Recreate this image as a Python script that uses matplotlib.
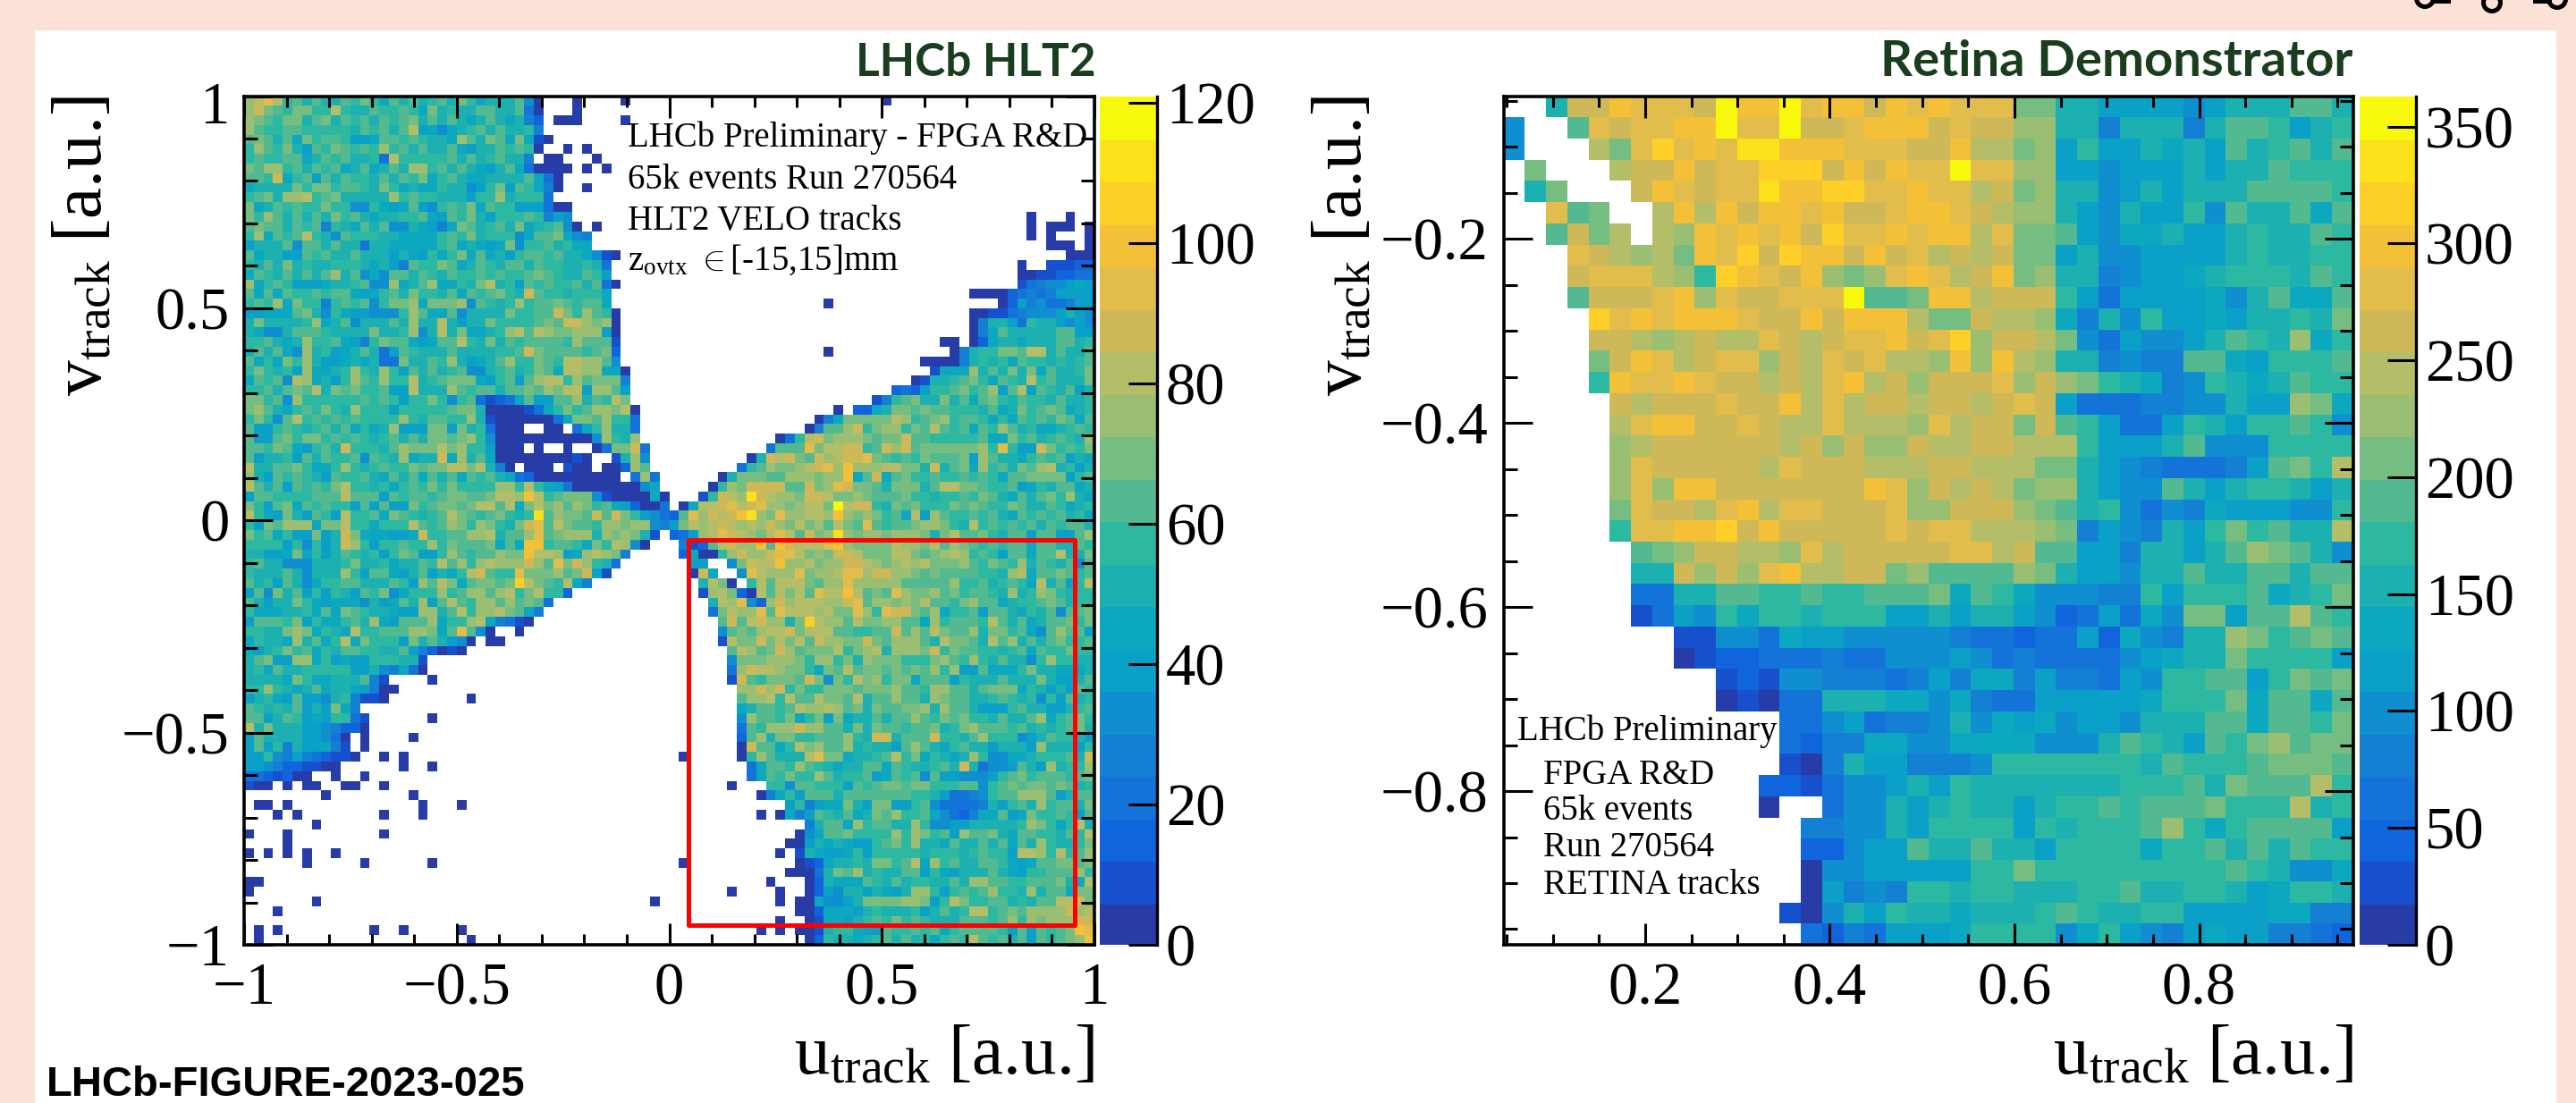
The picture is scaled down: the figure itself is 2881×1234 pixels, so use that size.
import numpy as np
import matplotlib
matplotlib.use('Agg')
import matplotlib.pyplot as plt
from matplotlib.colors import ListedColormap
from matplotlib.patches import Rectangle, Circle
from matplotlib.lines import Line2D
from matplotlib.ticker import MultipleLocator
from matplotlib.transforms import ScaledTranslation

W, H = 2881, 1234
SERIF = ['Liberation Serif', 'DejaVu Serif']
plt.rcParams['font.family'] = SERIF
plt.rcParams['mathtext.fontset'] = 'custom'
plt.rcParams['mathtext.rm'] = 'Liberation Serif'
plt.rcParams['mathtext.it'] = 'Liberation Serif'

# colour band read per cell: 0-9 then a-j, '.' is an empty bin
CODES = '0123456789abcdefghij'
band_colors = ['#283ca8', '#1650cc', '#1065dd', '#1473d8', '#1480d4', '#0f8ed0', '#0aa0c8', '#0ca8c0',
               '#1cb0b0', '#2db8a2', '#52b990', '#75bd80', '#9abf72', '#b4bd68', '#cfb858', '#e2bd4c',
               '#f4c038', '#fdcf28', '#fbe01c', '#f8f80c']

hlt2_zmax = 121.0
retina_zmax = 363.0

hlt2_top_left = [
 "cdfd9a8a88 a9b97a8a89 a8b97888a5 0...0....0 ....",
 "ceba9bb99d 988a99a97b 8988aa88a3 0...0",
 "cba9bb8ab8 a9a8a9ab8a 8a878a8784 2.000....0",
 "ca99aa9999 98a9a8ad67 5789a8a889 4",
 "aba8a7b9aa 9667aa9a98 87ca8ba7b7 10",
 "9ca9b86a9b a9a9c9a8a8 8a7688a9a9 0..0.0",
 "9a99aa78a9 a8893d9999 9a8a89a884 .00...0",
 "bacc9a8a9a 78a78a8cc9 a8a8768a73 0000.0.0",
 "aa9e79a6a8 a998a8a9b7 9a8778888a 730",
 "78888b9bb9 aa98b97877 988569b6a9 740..0",
 "9ab8ccd9ab 88888c9a99 888699c899 93",
 "b78a9a99b9 9559767a65 9a9b7a9966 6300",
 "b9ca8a8a8b 9a878899a7 6a9b86999a 9465",
 "abaa8a9a49 87a8a55876 47ba89a8b7 89a50.0",
 "9c7a9ad985 a999887777 9a9b899957 aab754",
 "6888a5aa8a 8838877777 9a78767b59 9a8977",
 "a78866a9a8 8a88868769 79b7a7869a a9a887510.",
 "98a8b89889 9987864a99 ba78a98aa8 a9988983",
 "7a98a8a8ac 8a575aa8a9 8a99a9a99a ba988a96",
 "c79a966678 89a55c78ac 7798bd896a 9a99a8a30",
 "a7a7a99a9a a7679a8b99 8a7a9ab98e a9989997",
 "9a9c7b9949 a9a59bbc7b bbc5a989c9 aaba9aa7",
 "66777ab859 7665559ca7 7a58888b99 aaeb9ca90",
 "8b88889c78 a5888a8c88 d8688b9999 abaeecbc0",
 "87558aaa98 888b889c58 d8b7789cda dcbbccc60",
 "99a878c99a 7649baa767 aad98b8a9a aaa9caaa1",
 "8a8a75c896 78a836a988 8a888899ae baaaa9ab2",
 "a797b9c866 787833b88a 9c8678ac99 ba9ddcca5",
 "9b9896c778 9c98c96a8a 89a5589a89 ba7ddcc770",
 "7a9a5dc786 9ca9c99d89 abbb769a6a cdd9cabbb4",
 "99a8abad8b ab99a66d88 8ca9aa8aab acbdd6cca6",
 "bb9a5c9999 99a9a9699b 959a31237a 66aac8a9db",
 "bca879a9b9 8c99969999 9abb800001 379b9accbd 0",
 "9b95ad9a9a 9a9999c98a a99c810000 0037bbac99 3",
 "a669a989a8 a7978c666b b6b893000. .00.379c88 3",
 "a66ab9bb9a 9a989a8a8b babc950000 0000005c98 c",
 "aa9ba769a8 e9998acbbb dbc996000. 0..0..03bb e3",
 "a68896a8a9 9a5a98c788 e7c8a70000 000010..18 c5",
 "d88aab9779 c989a99bab bddbd840.0 00.100.002 ca",
 "c86a9a986a 99a87a8a7a 8a7a9a8732 000000000. 3c3",
 "da8a6a9a9b d998979a9b 9b9999cc9d 9763000000 057",
 "6aa9999aaa daaa6a9aa9 abbaabddcg d9abbb5100 0070",
 "b96ab7a9a9 96a6a66b9a bbabddad7b dbcacb9a76 2003",
 "d976b86a96 d99a7ba989 adba9ab989 iacbbaeaeb 9653",
]

hlt2_top_right = [
 ".......... .......... ..0",
 "", "", "", "", "", "", "", "", "", "", "",
 ".......... .......... .......... .......0.. .0..",
 ".......... .......... .......... .......0.0 00.0",
 ".......... .......... .......... .......0.0 ...0",
 ".......... .......... .......... .........0 00.0",
 ".......... .......... .......... .......... .000",
 ".......... .......... .......... ......0..1 1122",
 ".......... .......... .......... ......0011 2233",
 ".......... .......... .......... ......1345 5676",
 ".......... .......... .......... .000023434 6666",
 ".......... ......0... .......... ....026453 3466",
 ".......... .......... .......... .001134555 6865",
 ".......... .......... .......... .048863988 6565",
 ".......... .......... .......... .047a88888 aa66",
 ".......... .......... ........00 .027887888 aa89",
 ".......... ......0... .........0 4899bbadd8 a88a",
 ".......... .......... ......0000 489897a998 989a",
 ".......... .......... .......177 7c8a8b8b7a 889b",
 ".......... .......... .....01889 ab97a98d9a 888b",
 ".......... .......... ...232699a b9ac6ad6a9 8a68",
 ".......... .......... .149ab88b8 a7ab98a998 a889",
 ".......... .......0.2 278bbabaa9 998a78b9ab a789",
 ".......... .....047bb bbbdc9abc9 aa9797a9a9 ba7a",
 ".......... ....04aace 9bcc9bada9 a7a9ca8977 89a9",
 ".......... .039debccc babbeaa999 99a77b9a89 a98c",
 ".......... 3aaafbddee 9aeceabbbb bbc9f966eb 9a9b",
 "........08 edebaecdee fba9a9baaa b6ca8879a9 a687",
 ".......39a cbbcdefcgc ccddbb8e8a b7c9a8bacd 8968",
 ".....08bbb aacccbccg7 ae7ab99a99 a9a97aabbb b69a",
 "....09cbee eeaaebcfeb ba8bbb8add bba99a6798 aa78",
 "...19edcie dccbeedbbc baaab99899 a9ba87a8ab 9c87",
 ".07ddefdef ccbcddbjde e98bab999b aba99ba88a 9789",
 "2afcedegic bfccddcgcb cb9a7d6ca9 9a9a87a9a9 a897",
]

hlt2_bottom_left = [
 "96baccc7bb d997999da9 acb9cb98be fadbaa9ccb cc54",
 "b9a7966b68 eb77766 7e9 9aaccd8aac fabccc8cbc b81.",
 "9999695968 ec9699a99c 9baaab7a7g g9aa97b9dc 50",
 "88667b7968 a98969ba66 9ca9aacbbg ddc67cdcb4",
 "9a88555888 9b88978 8a9 dac9cdccce cafbec983.",
 "9888a85888 c96aa768a6 879dea99fb bbcabe61",
 "a896a85799 aa888a96ca db7abbabhd ba9d74",
 "6a5b8a6969 86a9b57999 c9acca cd9b d992",
 "a8688b9767 775867a8c6 ada9ccacab a3",
 "97778897a7 ba988766cc 8ad9ccdba7 4",
 "6aaa9b6977 9a8c76aaac 799cd74310",
 "9988bcb798 7d99aaaccb 7afa50..0.",
 "79887c8a79 d7b9996b8a 8650.00",
 "7689b9a798 aa9988a642 010",
 "8ab66cc796 7669998 81.",
 "897a889999 96685 4730.",
 "88887b9778 88a41....0",
 "99c9878a78 876400",
 "6897 6a6658 94110..... ...0",
 "a9898a686b 74",
 "aa68a96769 931......0",
 "d8b8886654 220",
 "6a88886653 0.0....0",
 "6a69486674 1.0",
 "6695464321 10..0.0",
 "6654221100 ......0..0",
 "33212 00..0 ..0",
 "100.0.00.. 00..0",
 "........0. .......0",
 ".00.0..... ........0. ..0",
 "...0.0.... ....0...0.",
 ".......0",
 "0...0..... ....0",
 "....0",
 "0.0.0.0..0",
 "......0... ..0......0",
 "",
 "00",
 "0",
 ".......0.. .......... .......... .......... ..0.",
 "...0",
 "",
 ".0.0...... ...0..0... ..0",
 ".0........ .......... ...0",
]

hlt2_bottom_right = [
 "6bdcdedcdc ecbdbcadba fa9aabccb9 8d9a9a9a8a 9aa8",
 "236cdfedcb dfdaebcicb ccbcccb8bd aab98aa6aa 66ac",
 ".412adeccg agedddfgcb bbbdccbdac ba9a9aa7aa 88a9",
 ".27009cecc effdbcbeed bbbddbabcd c9a96aa7aa d88b",
 "..66..5bed dgccdbccee dcbcdcdbbb ca9ba9c8a9 8a5a",
 "..0e7..5fd cccfbccdff ceeccbabaa aa998cd7aa ba9a",
 "...8db0.9d adddbaccfc ccccaaaaac 99a89a97d8 a69d",
 "...1cdb20d adbdafddgd abafcbbcab 9aa98c89cb 9899",
 "....8dcf52 cecdddccef accbcbdaa9 bcaa7899ab a899",
 "....3bdccf afdddcdbbf c9feebac79 9a6aa8798a 5aab",
 ".....aeade cc8bhdccad bbccaa7c9a aa9da8a78a ab9b",
 ".....5abac ddebdddaa9 9aaeacadba ac8bb9a75a caa6",
 ".....1dbbe bdbdaeccbb ebaccca8db ba8dac8a8a b99a",
 "......adca becabbbd9b cd8cccbe9b aa9989a7a9 9b99",
 "......5bbb cccb9cc9b8 cbbb999bca 9c98a8859c 9988",
 "......3ced dcbb97bada bbababac9c 66a7779b88 7778",
 "......1ea9 bbbaeb5b9d bc9bb7aaa6 9888a888b8 668a",
 ".......cce ce9b99bbba bbbcaa9cca a8abbb7986 86a9",
 ".......acc d9daadbbad 8aacaa8cba a889a98959 6a89",
 ".......78a a9adccdcab 8baabbc8ca a86669a886 689a",
 ".......5ca a9b79b6b78 8a8aaca9ba b998a88ac7 9ab9",
 ".......3a9 ccceccaa8b 8baa9aab89 bcaaa9a898 9ab8",
 ".......2ac 8bb99aaac9 8ee8aaae99 8ac999568a 9986",
 ".......0ea a79dbcaac8 9886aca879 a8868886c8 8869",
 ".0.....09c a888dfbb78 89ad9b7987 8c95577899 9a8e",
 "........37 aa9ca98788 aa7a9889a8 e8355 6a86c 899c",
 "........37 a9b99ca899 a67a9a5a66 55569ab9aa a9ab",
 "......0... 995aa9996a 9abbabb999 aa59ababba ba89",
 ".........0 4796aaa8aa aaaaa99863 3459aaccca 68aa",
 ".......... ..694677b8 6bb669a533 334869a8c9 aa8b",
 ".........0 .0746a98a7 8bac99a753 2477a67b99 a96a",
 ".......... ....48aa7c 9aa88c9556 6888889cb9 79d8",
 ".......... ...057aab9 999c9cb9a6 caab87aa99 8a9d",
 ".......... ..00687876 69ab9c887a 88a8a7a8c9 889b",
 ".......... .0.1876679 6999998999 89a996ddc9 d9ac",
 ".0........ ...0127889 8bb9ad7c9a 88aa9767aa bbab",
 ".......... ..00038bac 8988aa6976 888a87699a aac9",
 ".......... 0...028777 a98a89988a 8ccaa99aaa b87d",
 "......0... .0..026588 68768cc969 a9ac998c8a a7bb",
 ".......... .0.0075568 bbbbccb69d b99aa898aa ddeb",
 ".......... ...0027776 89888968a8 9dd9abaccc cecd",
 ".......... .0..017768 9a9b9a9888 aaa9ac9cbc ccee",
 ".........0 .0.0018997 66a99a9a79 aaaa96a6a9 abgf",
 ".......... ....029887 89a8a8979a 9da9a8a6a9 abcg",
]

retina_rows = [
 "..8eegfffe jggjfggegf gfffbb8866 6656888aa8",
 "5..afeffgg jffjeefggg efeecc8848 8848aa9689",
 "5...dbfhfg fiigggfffe egddbc6966 8786a89a8a",
 ".b...deege ffhhhegegf fjffcc6656 668688a999",
 ".8b...egfe ffigghhffg ffdebc8856 86888aaaa9",
 "..fab..dgd geggfgeefg gfedcc8658 6695a88a7a",
 "..aebd.dcg fgfgehffgf ggdfbba657 78668988a9",
 "...fedcdbg fhehggegef dedebb6855 6666898899",
 "...efffdc9 hgfegcbcfg fdegbc8845 66789998a9",
 "...aeeefgc feefffjaab ggdeee9636 666758a77a",
 "....hfgfgg gfeegegggd bbeddc7485 966768898b",
 "....eedcde ddfedeffge fhceedb536 5568a98c79",
 "....begfde ffcedfefdd cgcgdc8845 44aa76999a",
 "....9gffgf eededfgdec eeefcecb98 7459878a99",
 ".....edeee feegdfdeed eedefe6333 4455866cb7",
 ".....dfgge efeddfdddc fdeebea963 3698699a95",
 ".....cdeee eeedececce ddeeddd966 68a5559999",
 ".....cfeee eedfeeeddd eedddbb865 433346ab9d",
 ".....cfcgg eeeeeeegfc ededbcc865 5a86899868",
 ".....bfeed fgdffeeefc ceeecba895 3547666559",
 ".....9ffgg hegeeeeefe ffdddcb465 4869b9a88d",
 "......abce eddcfdeeee effdeaa664 8868acba85",
 "......88ec ecfgddeebc aaaacb8665 88a88aa8aa",
 "......3388 aa99a99aaa b7a9755544 96999a789b",
 "......1365 9799899966 8688652363 75bb6aada9",
 "........11 5537665555 5433233627 5488cb9aba",
 "........01 2233343355 5653433335 6788b99996",
 ".......... 1215544434 6477464436 599aa69bab",
 ".......... 0103388877 5743366666 7999b7aa7a",
 ".......... ...3356344 5857675665 888aa7aa9b",
 ".......... ...3244775 577775558a 986a9bcabb",
 ".......... ...1048664 4459999999 8a999abbba",
 ".......... ..22135568 6988888889 99a8baaad9",
 ".......... ..0..35586 89886899a9 aaab999d89",
 ".......... ....445586 9999698999 ac979aaaa6",
 ".......... ....22566a 88a8869999 799a8a8a99",
 ".......... ....055666 6699b99999 9999a98557",
 ".......... ....064549 989988899a 8899867998",
 ".......... ...1058698 878889a988 9966667744",
 ".......... ....324366 6799995796 5467664432",
]

hlt2_xedges = [-1.0, 1.0]
hlt2_yedges = [1.0, -1.0]
retina_xedges = [0.0466, 0.967]
retina_yedges = [-0.045, -0.967]
hlt2_box = [0.0455, -0.954, 0.9545, -0.0455]

hlt2_ticks = ([-1, -0.5, 0, 0.5, 1], ['\u22121', '\u22120.5', '0', '0.5', '1'])
hlt2_zticks = [0, 20, 40, 60, 80, 100, 120]
retina_xticks = ([0.2, 0.4, 0.6, 0.8], ['0.2', '0.4', '0.6', '0.8'])
retina_yticks = ([-0.8, -0.6, -0.4, -0.2], ['\u22120.8', '\u22120.6', '\u22120.4', '\u22120.2'])
retina_zticks = [0, 50, 100, 150, 200, 250, 300, 350]

hlt2_legend = ['LHCb Preliminary - FPGA R&D', '65k events Run 270564', 'HLT2 VELO tracks',
               'z$_{\\mathrm{ovtx}}\\ \\in$[-15,15]mm']
retina_legend = ['LHCb Preliminary', 'FPGA R&D', '65k events', 'Run 270564', 'RETINA tracks']


def decode(rows, ncol, zmax):
    out = np.full((len(rows), ncol), np.nan)
    for i, r in enumerate(rows):
        s = r.replace(' ', '').ljust(ncol, '.')[:ncol]
        for j, c in enumerate(s):
            if c != '.':
                out[i, j] = (CODES.index(c) + 0.5) * zmax / len(CODES)
    return out


def ax_px(fig, x0, y0, x1, y1):
    return fig.add_axes([x0 / W, 1 - y1 / H, (x1 - x0) / W, (y1 - y0) / H])


def ftext(fig, x, y, s, **kw):
    return fig.text(x / W, 1 - y / H, s, **kw)


def style(ax, xmin, ymin):
    for s in ax.spines.values():
        s.set_linewidth(2.6)
    ax.xaxis.set_minor_locator(MultipleLocator(xmin))
    ax.yaxis.set_minor_locator(MultipleLocator(ymin))
    ax.tick_params(axis='both', which='both', direction='in', top=True, right=True, width=2.2)
    ax.tick_params(axis='x', which='major', length=17, labelsize=48, pad=14)
    ax.tick_params(axis='x', which='minor', length=8.5)
    ax.tick_params(axis='y', which='major', length=23, labelsize=48, pad=12)
    ax.tick_params(axis='y', which='minor', length=11)


def zbar(fig, x0, x1, mesh, ticks):
    cax = ax_px(fig, x0, 107.5, x1, 1057)
    cb = fig.colorbar(mesh, cax=cax, drawedges=False)
    cb.set_ticks(ticks)
    cb.ax.minorticks_off()
    cax.tick_params(axis='y', which='major', direction='in', length=23, width=2.2, labelsize=48, pad=7,
                    right=True, left=False)
    cb.outline.set_visible(False)
    cax.spines['right'].set_visible(True)
    cax.spines['right'].set_linewidth(2.4)
    for lab in cax.get_yticklabels():
        lab.set_ha('left')
    cb.solids.set_edgecolor('face')
    return cb


fig = plt.figure(figsize=(W / 100, H / 100), dpi=100, facecolor='#fbe1d6')
fig.add_artist(Rectangle((39 / W, 0), (2859 - 39) / W, 1 - 34 / H, transform=fig.transFigure,
                         facecolor='white', edgecolor='none', zorder=-5))

# cut off logo rings along the top edge of the page
for cx, cy in [(2712, -2), (2787, 3), (2860, -1)]:
    fig.add_artist(Circle((cx, H - cy), 9.5, transform=None, fill=False, edgecolor='black', linewidth=3.6))
fig.add_artist(Line2D([2722 / W, 2738 / W], [1 - 1 / H, 1 - 1 / H], color='black', lw=3.6))
fig.add_artist(Line2D([2835 / W, 2851 / W], [1 - 1 / H, 1 - 1 / H], color='black', lw=3.6))

cmap = ListedColormap(band_colors)

# left panel
hlt2 = np.vstack([np.hstack([decode(hlt2_top_left, 44, hlt2_zmax), decode(hlt2_top_right, 44, hlt2_zmax)]),
                  np.hstack([decode(hlt2_bottom_left, 44, hlt2_zmax), decode(hlt2_bottom_right, 44, hlt2_zmax)])])
ax = ax_px(fig, 273, 107.5, 1224, 1057)
xe = np.linspace(hlt2_xedges[0], hlt2_xedges[1], hlt2.shape[1] + 1)
ye = np.linspace(hlt2_yedges[0], hlt2_yedges[1], hlt2.shape[0] + 1)
m1 = ax.pcolormesh(xe, ye, np.ma.masked_invalid(hlt2), cmap=cmap, vmin=0, vmax=hlt2_zmax)
ax.set_xlim(-1, 1)
ax.set_ylim(-1, 1)
ax.set_xticks(hlt2_ticks[0], hlt2_ticks[1])
ax.set_yticks(hlt2_ticks[0], hlt2_ticks[1])
style(ax, 0.1, 0.1)
# ROOT pulls the top label down a little
top_lab = ax.get_yticklabels()[-1]
top_lab.set_transform(top_lab.get_transform() + ScaledTranslation(0, -7 / 100, fig.dpi_scale_trans))
ax.add_patch(Rectangle((hlt2_box[0], hlt2_box[1]), hlt2_box[2] - hlt2_box[0], hlt2_box[3] - hlt2_box[1],
                       fill=False, edgecolor='red', linewidth=3.6, joinstyle='round', zorder=6))
zbar(fig, 1230, 1294, m1, hlt2_zticks)
for s, y in zip(hlt2_legend, [164, 211, 257, 302]):
    ftext(fig, 702.5, y, s, fontsize=28, va='baseline', ha='left', family=SERIF)

# right panel
retina = decode(retina_rows, 40, retina_zmax)
ax2 = ax_px(fig, 1681.5, 107.5, 2632, 1057)
xe2 = np.linspace(retina_xedges[0], retina_xedges[1], retina.shape[1] + 1)
ye2 = np.linspace(retina_yedges[0], retina_yedges[1], retina.shape[0] + 1)
m2 = ax2.pcolormesh(xe2, ye2, np.ma.masked_invalid(retina), cmap=cmap, vmin=0, vmax=retina_zmax)
ax2.set_xlim(retina_xedges)
ax2.set_ylim(retina_yedges[1], retina_yedges[0])
ax2.set_xticks(retina_xticks[0], retina_xticks[1])
ax2.set_yticks(retina_yticks[0], retina_yticks[1])
style(ax2, 0.05, 0.05)
zbar(fig, 2638.5, 2702, m2, retina_zticks)
for s, x, y in zip(retina_legend, [1697, 1726.5, 1726.5, 1726.5, 1726.5], [828, 877, 917, 958, 1000]):
    ftext(fig, x, y, s, fontsize=28, va='baseline', ha='left', family=SERIF)

# axis titles
ulabel = '$\\mathrm{u}_{\\mathrm{track}}$ [a.u.]'
vlabel = '$\\mathrm{v}_{\\mathrm{track}}$ [a.u.]'
for xr, xv in [(1224, 95), (2632, 1504)]:
    ftext(fig, xr, 1202, ulabel, fontsize=57, ha='right', va='baseline', family=SERIF)
    ftext(fig, xv, 107, vlabel, fontsize=57, rotation=90, ha='center', va='top', family=SERIF)

# panel headers
GREEN = '#1a3d1e'
ftext(fig, 1226, 85, 'LHCb HLT2', fontsize=37, color=GREEN, ha='right', va='baseline', family='Lato', weight='bold')
ftext(fig, 2631, 85, 'Retina Demonstrator', fontsize=40.5, color=GREEN, ha='right', va='baseline', family='Lato', weight='bold')
ftext(fig, 52, 1226, 'LHCb-FIGURE-2023-025', fontsize=34, color='black', ha='left', va='baseline',
      family='Liberation Sans', weight='bold')

fig.savefig('out.png', dpi=100, facecolor=fig.get_facecolor())
